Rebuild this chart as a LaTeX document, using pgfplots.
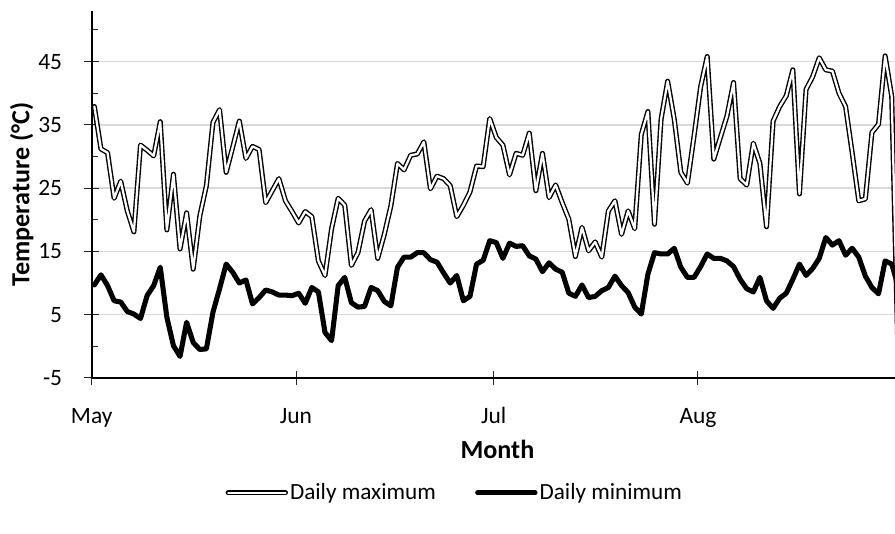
\documentclass[border=0pt]{standalone}
\usepackage{fontspec}
\setmainfont{Carlito}
\usepackage{pgfplots}
\usepackage{pgfplotstable}
\pgfplotsset{compat=1.18}
\definecolor{gridgray}{HTML}{D9D9D9}
\pgfplotstableread{
i tmax tmin
0 37.9 9.7
1 31.2 11.3
2 30.6 9.6
3 23.4 7.2
4 26.1 7.0
5 21.4 5.5
6 18.1 5.1
7 31.8 4.4
8 31.0 8.0
9 30.1 9.6
10 35.5 12.5
11 18.4 4.6
12 27.2 0.1
13 15.4 -1.6
14 21.1 3.8
15 12.2 0.6
16 20.6 -0.5
17 25.4 -0.4
18 35.4 5.4
19 37.4 9.1
20 27.5 13.0
21 31.5 11.7
22 35.6 10.0
23 29.7 10.5
24 31.6 6.7
25 31.1 7.7
26 22.7 8.9
27 24.6 8.6
28 26.5 8.1
29 23.0 8.1
30 21.3 8.0
31 19.5 8.4
32 21.3 6.8
33 20.5 9.3
34 13.5 8.6
35 11.2 2.2
36 18.6 0.9
37 23.4 9.6
38 22.3 10.9
39 12.8 6.9
40 14.8 6.2
41 19.8 6.3
42 21.6 9.3
43 13.9 8.8
44 17.7 7.1
45 22.2 6.4
46 28.9 12.5
47 27.9 14.1
48 30.2 14.1
49 30.4 14.8
50 32.3 14.8
51 24.9 13.7
52 26.9 13.3
53 26.5 11.6
54 25.4 10.0
55 20.5 11.2
56 22.3 7.2
57 24.4 7.9
58 28.5 13.0
59 28.4 13.6
60 36.0 16.7
61 33.0 16.4
62 31.8 13.9
63 27.1 16.3
64 30.5 15.8
65 30.2 15.9
66 33.7 14.3
67 24.6 13.8
68 30.5 11.8
69 23.5 13.2
70 25.5 12.2
71 22.7 11.7
72 20.1 8.4
73 14.2 7.9
74 18.8 9.7
75 15.1 7.7
76 16.5 7.9
77 14.1 8.8
78 21.4 9.3
79 23.0 11.1
80 17.7 9.6
81 21.4 8.5
82 18.6 6.2
83 33.5 5.1
84 37.1 11.4
85 19.3 14.8
86 35.9 14.6
87 41.9 14.6
88 35.9 15.5
89 27.5 12.5
90 25.8 10.9
91 33.2 10.9
92 41.0 12.6
93 45.8 14.6
94 29.6 13.9
95 33.0 13.9
96 36.4 13.5
97 41.7 12.6
98 26.5 10.6
99 25.5 9.1
100 32.1 8.6
101 28.9 10.9
102 18.9 7.2
103 35.6 6.0
104 37.9 7.6
105 39.6 8.4
106 43.7 10.6
107 24.1 13.0
108 40.6 11.2
109 42.6 12.3
110 45.6 13.9
111 43.7 17.2
112 43.5 16.0
113 40.0 16.7
114 37.9 14.4
115 30.6 15.5
116 23.0 14.1
117 23.3 11.1
118 33.8 9.3
119 35.1 8.3
120 45.9 13.5
121 39.5 13.0
122 -3.0 9.4
}\temps
\begin{document}
\begin{tikzpicture}
\useasboundingbox (-68.8pt,-117pt) rectangle (602.5pt,283.5pt);
\begin{axis}[
  at={(0pt,0pt)}, anchor=south west,
  scale only axis,
  width=602.5pt, height=275.25pt,
  xmin=0, xmax=121.9,
  ymin=-5, ymax=53,
  axis lines*=left,
  axis line style={line width=1.5pt, black},
  xtick={0,31,61,92},
  xticklabels={May,Jun,Jul,Aug},
  ytick={-5,5,15,25,35,45},
  minor ytick={0,10,20,30,40,50},
  tick align=center,
  major tick length=11pt,
  minor tick length=4.5pt,
  tick style={line width=0.75pt, black!85},
  every minor y tick/.append style={xshift=2.25pt},
  ymajorgrids,
  major grid style={gridgray, line width=1.1pt},
  /pgf/number format/assume math mode=true,
  ticklabel style={font=\fontsize{17.6}{20}\selectfont, inner sep=0pt},
  yticklabel style={anchor=east, xshift=-16.5pt},
  xticklabel style={anchor=base, yshift=-28.5pt},
  xlabel={Month},
  ylabel={Temperature (°C)},
  every axis x label/.style={at={(axis description cs:0.505,-0.196)}, anchor=center,
    font=\fontsize{19.6}{22}\selectfont\bfseries},
  every axis y label/.style={at={(axis description cs:-0.0872,0.5)}, rotate=90, anchor=center,
    font=\fontsize{19.6}{22}\selectfont\bfseries},
  legend columns=2,
  legend style={at={(axis description cs:0.452,-0.313)}, anchor=center, draw=none, fill=none,
    font=\fontsize{17.4}{20}\selectfont,
    /tikz/every even column/.append style={column sep=28pt},
    nodes={inner sep=1.5pt}},
  legend image code/.code={\draw[#1] (1pt,0pt) -- (44pt,0pt);},
]
\addplot[black, line width=1.05pt, double=white, double distance=1.7pt, line join=round, line cap=round, no markers]
  table[x expr=\thisrow{i}+0.4, y=tmax] {\temps};
\addlegendentry{Daily maximum}
\addplot[black, line width=3.8pt, line join=round, line cap=round, no markers]
  table[x expr=\thisrow{i}+0.4, y=tmin] {\temps};
\addlegendentry{Daily minimum}
\end{axis}
\end{tikzpicture}
\end{document}
